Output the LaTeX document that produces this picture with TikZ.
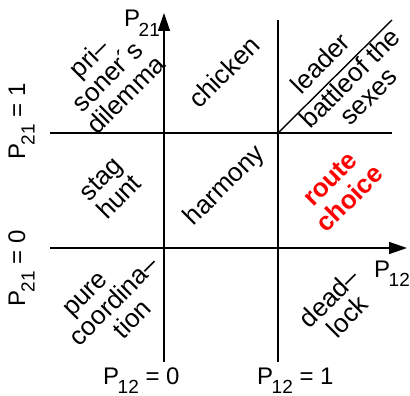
\documentclass[tikz,border=0pt]{standalone}
\usepackage{fontspec}
\setmainfont{Liberation Sans}
\usepackage{tikz}
\usetikzlibrary{arrows.meta}
\newcommand{\idx}[1]{\kern-1.5pt\raisebox{-0.4em}{\fontsize{19}{19}\selectfont #1}}

\begin{document}
\begin{tikzpicture}[x=1pt, y=-1pt,
    font=\fontsize{24}{25}\selectfont,
    grid/.style={line width=1.4pt},
    axis/.style={line width=1.4pt, -{Triangle[length=18pt, width=12pt]}},
    game/.style={rotate=45, align=center, inner sep=0pt, font=\fontsize{26}{26}\selectfont},
    lbl/.style={inner sep=0pt, anchor=base west},
    route/.style={red, font=\fontsize{26}{28}\selectfont\bfseries}]
  \useasboundingbox (0,0) rectangle (410,396);
  % Corners of the grid
  \coordinate (o) at (164,248);
  \coordinate (c) at (278,133);
  % Grid lines
  \draw[grid] (50,133) -- (392,133);
  \draw[grid] (278,362) -- (278,20);
  \draw[grid] (c) -- (392,20);
  % Axes
  \draw[axis] (50,248) -- (407,248);
  \draw[axis] (164,362) -- (164,13);
  % Axes labels
  \node[lbl] (p21) at (124,27) {P\idx{21}};
  \node[lbl] (p12) at (374,277) {P\idx{12}};
  \node[lbl] (p12z) at (103,384) {P\idx{12} = 0};
  \node[lbl] (p12o) at (257,384) {P\idx{12} = 1};
  \node[lbl, rotate=90] (p21o) at (25,160) {P\idx{21} = 1};
  \node[lbl, rotate=90] (p21z) at (25,307) {P\idx{21} = 0};
  % Games
  \node[game] (pd) at (107,76) {pri–\\soner´s\\dilemma};
  \node[game] (ch) at (224,72) {chicken};
  \node[game] (ld) at (320,63) {leader};
  \node[game] (bs) at (359,87) {battleof the\\sexes};
  \node[game] (sh) at (110,188) {stag\\hunt};
  \node[game] (hm) at (225,186) {harmony};
  \node[game, route] (rc) at (340,189) {route\\choice};
  \node[game] (pc) at (115,302) {pure\hspace*{1.2em}\\coordina–\\tion};
  \node[game] (dl) at (338,307) {dead–\\lock};
\end{tikzpicture}
\end{document}
